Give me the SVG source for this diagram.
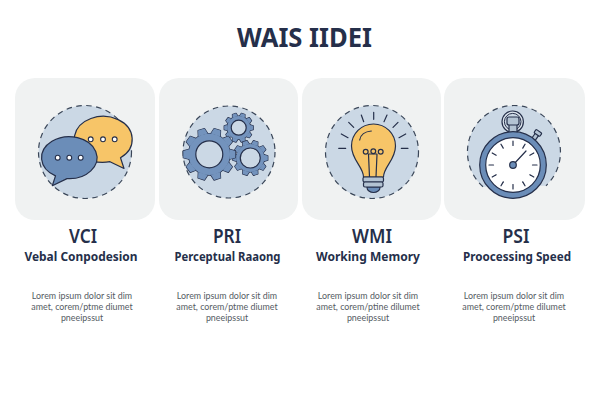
<svg xmlns="http://www.w3.org/2000/svg" xmlns:xlink="http://www.w3.org/1999/xlink" width="600" height="420" viewBox="0 0 600 420">
<style>
.card{fill:#f0f2f2}
.disc{fill:#cbd8e5;stroke:#3a4658;stroke-width:1.2;stroke-dasharray:5.5 4.5}
text{font-family:"Noto Sans","Open Sans","Liberation Sans",sans-serif;text-anchor:middle}
.title{font-size:27px;font-weight:700;fill:#252f4a}
.code{font-size:20px;font-weight:600;fill:#252f4a}
.sub{font-size:12px;font-weight:700;fill:#252f4a}
.body{font-family:Lato,"Noto Sans",sans-serif;font-size:8.9px;fill:#555b63}
.ln{fill:none;stroke:#252f4a;stroke-width:1.2;stroke-linecap:round;stroke-linejoin:round}
.ol{stroke:#252f4a;stroke-width:1.2;stroke-linejoin:round}
.gear-o{fill:#252f4a;stroke:#252f4a;stroke-linejoin:round}
.gear-f{fill:#7393bd}
.hole{fill:#cbd8e5;stroke:#252f4a;stroke-width:1.2}
.dot{fill:#fff;stroke:#252f4a;stroke-width:1.1}
</style>
<defs>
<g id="gear">
<circle r="0.8"/>
<path d="M-.19-.78L-.13-1H.13L.19-.78Z" transform="rotate(18)"/>
<path d="M-.19-.78L-.13-1H.13L.19-.78Z" transform="rotate(54)"/>
<path d="M-.19-.78L-.13-1H.13L.19-.78Z" transform="rotate(90)"/>
<path d="M-.19-.78L-.13-1H.13L.19-.78Z" transform="rotate(126)"/>
<path d="M-.19-.78L-.13-1H.13L.19-.78Z" transform="rotate(162)"/>
<path d="M-.19-.78L-.13-1H.13L.19-.78Z" transform="rotate(198)"/>
<path d="M-.19-.78L-.13-1H.13L.19-.78Z" transform="rotate(234)"/>
<path d="M-.19-.78L-.13-1H.13L.19-.78Z" transform="rotate(270)"/>
<path d="M-.19-.78L-.13-1H.13L.19-.78Z" transform="rotate(306)"/>
<path d="M-.19-.78L-.13-1H.13L.19-.78Z" transform="rotate(342)"/>
</g>
<line id="tick" x1="0" y1="-24" x2="0" y2="-19.5" class="ln"/>
</defs>
<rect width="600" height="420" fill="#fff"/>
<text class="title" x="304.5" y="47" textLength="135" lengthAdjust="spacingAndGlyphs">WAIS IIDEI</text>

<g id="vci">
<rect class="card" x="15" y="78" width="140" height="142" rx="20"/>
<circle class="disc" cx="85" cy="152" r="46.5"/>
<path class="ol" fill="#f7c568" d="M110 161.7A29 23 0 1 1 120.5 157.8L124 168.5Z"/>
<circle class="dot" cx="90.7" cy="139.3" r="2.4"/><circle class="dot" cx="103" cy="139.3" r="2.4"/><circle class="dot" cx="114.7" cy="139.3" r="2.4"/>
<path class="ol" fill="#6b8db8" d="M67 178.6A27.7 21 0 1 0 55.5 175.9L52.3 185.7Z"/>
<circle class="dot" cx="57.7" cy="157.7" r="2.4"/><circle class="dot" cx="69.3" cy="157.7" r="2.4"/><circle class="dot" cx="80.7" cy="157.7" r="2.4"/>
<text class="code" x="83" y="243" textLength="28" lengthAdjust="spacingAndGlyphs">VCI</text>
<text class="sub" x="81" y="261" textLength="113" lengthAdjust="spacingAndGlyphs">Vebal Conpodesion</text>
<text class="body" x="82" y="299">Lorem ipsum dolor sit dim</text>
<text class="body" x="82" y="310">amet, corem/ptme diumet</text>
<text class="body" x="82" y="321">pneeipssut</text>
</g>

<g id="pri">
<rect class="card" x="159" y="78" width="139" height="142" rx="20"/>
<circle class="disc" cx="229" cy="152" r="46"/>
<use xlink:href="#gear" class="gear-o" transform="translate(238.7 127.7) scale(14.5)" stroke-width="0.085"/>
<use xlink:href="#gear" class="gear-f" transform="translate(238.7 127.7) scale(14.5)"/>
<circle class="hole" cx="238.7" cy="127.7" r="7.5"/>
<use xlink:href="#gear" class="gear-o" transform="translate(250.3 158) scale(17.5)" stroke-width="0.07"/>
<use xlink:href="#gear" class="gear-f" transform="translate(250.3 158) scale(17.5)"/>
<circle class="hole" cx="250.3" cy="158" r="10"/>
<use xlink:href="#gear" class="gear-o" transform="translate(209.3 154.3) scale(26)" stroke-width="0.047"/>
<use xlink:href="#gear" class="gear-f" transform="translate(209.3 154.3) scale(26)"/>
<circle class="hole" cx="209.3" cy="154.3" r="13.5"/>
<text class="code" x="227" y="243" textLength="28" lengthAdjust="spacingAndGlyphs">PRI</text>
<text class="sub" x="227.5" y="261" textLength="106" lengthAdjust="spacingAndGlyphs">Perceptual Raaong</text>
<text class="body" x="227" y="299">Lorem ipsum dolor sit dim</text>
<text class="body" x="227" y="310">amet, corem/ptme diumet</text>
<text class="body" x="227" y="321">pneeipssut</text>
</g>

<g id="wmi">
<rect class="card" x="302" y="78" width="139" height="142" rx="20"/>
<circle class="disc" cx="372" cy="152" r="46.5"/>
<path class="ln" d="M373.7 112.3V119.3M361.3 115L363.7 121.7M348.7 122.3L353.7 127.3M341.3 134L348 137.7M338.7 148.3H345.7M401.3 148.3H408M399 137.7L405.7 134M393 127.3L398 122.3M384 121.7L387 115"/>
<path class="ol" fill="#f7c568" d="M363.5 177C363.5 167 351.5 160 351.5 146A22 22 0 0 1 395.5 146C395.5 160 383.5 167 383.5 177Z"/>
<path class="ln" d="M359.7 140C360.5 135 365 131.5 371.3 131M368.5 154.5L369.5 177M377 154.5L376 177M368.5 154H377"/>
<circle class="ln" cx="365.7" cy="151.7" r="2.4"/><circle class="ln" cx="373.3" cy="151.2" r="2.4"/><circle class="ln" cx="380.7" cy="151.7" r="2.4"/>
<path class="ol" fill="#6b8db8" d="M367 187H380V187.5A6.5 5 0 0 1 367 187.5Z"/>
<rect class="ol" fill="#b3c3d3" x="363" y="177" width="20.5" height="5" rx="1.5"/>
<rect class="ol" fill="#b3c3d3" x="363.5" y="182" width="19.5" height="5" rx="1.5"/>
<text class="code" x="372" y="243" textLength="40" lengthAdjust="spacingAndGlyphs">WMI</text>
<text class="sub" x="368" y="261" textLength="104" lengthAdjust="spacingAndGlyphs">Working Memory</text>
<text class="body" x="368" y="299">Lorem ipsum dolor sit dim</text>
<text class="body" x="368" y="310">amet, corem/ptine dilumet</text>
<text class="body" x="368" y="321">pneeipssut</text>
</g>

<g id="psi">
<rect class="card" x="444" y="78" width="141" height="142" rx="20"/>
<path class="disc" d="M483 186.7A46.5 46.5 0 1 1 546 185.7"/>
<circle cx="512.7" cy="121.7" r="10.7" fill="#dce4ec" stroke="#252f4a" stroke-width="1.2"/>
<circle cx="512.7" cy="121.7" r="8.3" fill="#cbd8e5" stroke="#252f4a" stroke-width="1"/>
<rect class="ol" fill="#b3c3d3" x="509" y="124" width="8" height="9"/>
<rect class="ol" fill="#b3c3d3" x="507" y="117" width="12" height="8" rx="2"/>
<g transform="translate(536.5 135) rotate(35)">
<rect class="ol" fill="#b3c3d3" x="-2" y="-1" width="4" height="7"/>
<rect class="ol" fill="#b3c3d3" x="-3.5" y="-4.5" width="7" height="4" rx="1"/>
</g>
<circle class="ol" fill="#6b8db8" cx="513" cy="165" r="33.3"/>
<circle class="ol" fill="#fff" cx="513" cy="165" r="27.3"/>
<g transform="translate(513 165)">
<use xlink:href="#tick"/>
<use xlink:href="#tick" transform="rotate(30)"/>
<use xlink:href="#tick" transform="rotate(60)"/>
<use xlink:href="#tick" transform="rotate(90)"/>
<use xlink:href="#tick" transform="rotate(120)"/>
<use xlink:href="#tick" transform="rotate(150)"/>
<use xlink:href="#tick" transform="rotate(180)"/>
<use xlink:href="#tick" transform="rotate(210)"/>
<use xlink:href="#tick" transform="rotate(240)"/>
<use xlink:href="#tick" transform="rotate(270)"/>
<use xlink:href="#tick" transform="rotate(300)"/>
<use xlink:href="#tick" transform="rotate(330)"/>
</g>
<line class="ln" x1="513" y1="165" x2="526" y2="151"/>
<circle class="ol" fill="#6b8db8" cx="513" cy="165" r="3.3"/>
<text class="code" x="516" y="243" textLength="27" lengthAdjust="spacingAndGlyphs">PSI</text>
<text class="sub" x="517" y="261" textLength="108" lengthAdjust="spacingAndGlyphs">Proocessing Speed</text>
<text class="body" x="514" y="299">Lorem ipsum dolor sit dim</text>
<text class="body" x="514" y="310">amet, corem/ptme dilumet</text>
<text class="body" x="514" y="321">pneeipssut</text>
</g>
</svg>
